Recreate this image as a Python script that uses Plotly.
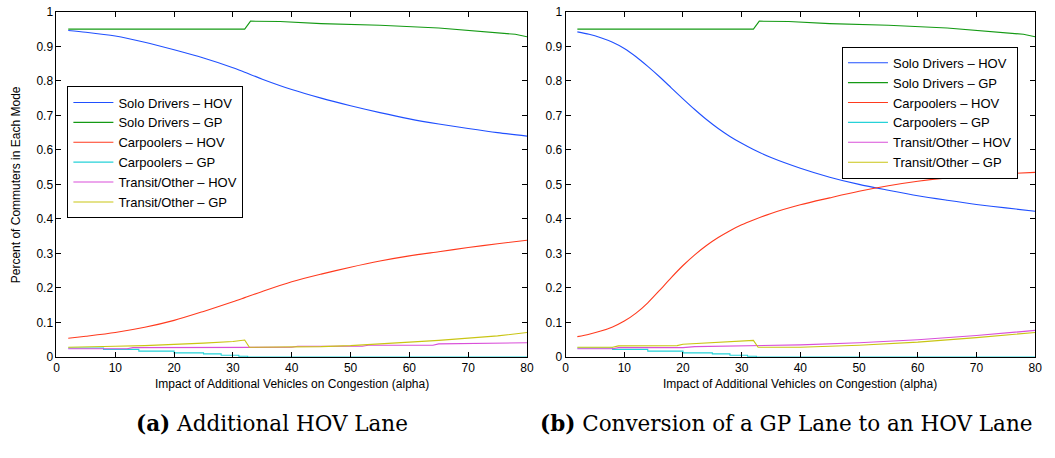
import plotly.graph_objects as go

# ---------------- data ----------------
# (a) Additional HOV lane
alpha_a = [2, 5, 10, 15, 20, 25, 30, 32, 35, 40, 45, 50, 55, 60, 65, 70, 75, 80]
solo_hov_a = [0.946, 0.941, 0.930, 0.912, 0.890, 0.866, 0.838, 0.825, 0.805, 0.775,
              0.750, 0.728, 0.708, 0.690, 0.675, 0.662, 0.650, 0.640]
carpool_hov_a = [0.054, 0.060, 0.071, 0.086, 0.106, 0.132, 0.160, 0.172, 0.190, 0.218,
                 0.240, 0.260, 0.278, 0.293, 0.305, 0.317, 0.328, 0.338]

solo_gp_x = [2, 32, 33, 38, 45, 55, 65, 72, 78, 80]
solo_gp_a = [0.950, 0.950, 0.973, 0.972, 0.966, 0.961, 0.953, 0.944, 0.935, 0.928]

carpool_gp_x = [2, 8, 14, 20, 25, 28, 31, 32.5, 80]
carpool_gp_a = [0.026, 0.022, 0.017, 0.012, 0.009, 0.005, 0.002, 0.0, 0.0]

transit_hov_x_a = [2, 12, 13, 32, 40, 41, 52, 53, 64, 65, 78, 80]
transit_hov_a = [0.024, 0.024, 0.027, 0.027, 0.028, 0.031, 0.031, 0.034, 0.034, 0.038, 0.039, 0.041]

transit_gp_x_a = [2, 8, 10, 15, 20, 25, 30, 32, 32.8, 40, 45, 50, 55, 60, 65, 70, 75, 80]
transit_gp_a = [0.028, 0.029, 0.031, 0.033, 0.036, 0.040, 0.045, 0.049, 0.028, 0.028,
                0.030, 0.033, 0.037, 0.043, 0.048, 0.054, 0.061, 0.071]

# (b) Conversion of a GP lane to an HOV lane
alpha_b = [2, 4, 6, 8, 10, 12, 14, 16, 18, 20, 22, 24, 26, 28, 30, 32, 35, 40, 45, 50,
           55, 60, 65, 70, 75, 80]
solo_hov_b = [0.942, 0.935, 0.925, 0.912, 0.894, 0.870, 0.842, 0.812, 0.780, 0.748,
              0.717, 0.688, 0.662, 0.639, 0.619, 0.601, 0.578, 0.547, 0.521, 0.500,
              0.483, 0.467, 0.454, 0.442, 0.432, 0.422]
carpool_hov_b = [0.059, 0.066, 0.075, 0.087, 0.104, 0.127, 0.157, 0.193, 0.230, 0.265,
                 0.296, 0.323, 0.346, 0.366, 0.383, 0.397, 0.416, 0.441, 0.461, 0.480,
                 0.496, 0.509, 0.519, 0.526, 0.531, 0.535]
solo_gp_b = [0.950, 0.950, 0.973, 0.972, 0.966, 0.961, 0.953, 0.944, 0.935, 0.928]
carpool_gp_b = [0.026, 0.022, 0.017, 0.012, 0.009, 0.005, 0.002, 0.0, 0.0]

transit_hov_x_b = [2, 8, 9, 20, 22, 32, 40, 50, 60, 70, 80]
transit_hov_b = [0.024, 0.024, 0.027, 0.027, 0.030, 0.032, 0.035, 0.041, 0.050, 0.062, 0.077]

transit_gp_x_b = [2, 8, 9, 19, 20, 24, 28, 30, 32, 32.8, 40, 50, 60, 70, 80]
transit_gp_b = [0.028, 0.028, 0.032, 0.033, 0.037, 0.040, 0.044, 0.046, 0.048, 0.028,
                0.028, 0.034, 0.043, 0.056, 0.071]

series_names = ["Solo Drivers – HOV", "Solo Drivers – GP", "Carpoolers – HOV",
                "Carpoolers – GP", "Transit/Other – HOV", "Transit/Other – GP"]
series_colors = ["#2050ff", "#149a14", "#ff3a1e", "#26d2d8", "#d94fd9", "#c9c514"]

x_title = "Impact of Additional Vehicles on Congestion (alpha)"
y_title = "Percent of Commuters in Each Mode"
caption_a = "<b>(a)</b> Additional HOV Lane"
caption_b = "<b>(b)</b> Conversion of a GP Lane to an HOV Lane"

# ---------------- figure ----------------
W, H = 1055, 458
fig = go.Figure()

panels = [
    dict(xa="x", ya="y", legend="legend",
         data=[(alpha_a, solo_hov_a, "spline"), (solo_gp_x, solo_gp_a, "linear"),
               (alpha_a, carpool_hov_a, "spline"), (carpool_gp_x, carpool_gp_a, "hv"),
               (transit_hov_x_a, transit_hov_a, "linear"), (transit_gp_x_a, transit_gp_a, "linear")]),
    dict(xa="x2", ya="y2", legend="legend2",
         data=[(alpha_b, solo_hov_b, "spline"), (solo_gp_x, solo_gp_b, "linear"),
               (alpha_b, carpool_hov_b, "spline"), (carpool_gp_x, carpool_gp_b, "hv"),
               (transit_hov_x_b, transit_hov_b, "linear"), (transit_gp_x_b, transit_gp_b, "linear")]),
]

for p in panels:
    for (xs, ys, shape), name, color in zip(p["data"], series_names, series_colors):
        fig.add_trace(go.Scatter(
            x=xs, y=ys, mode="lines", name=name, xaxis=p["xa"], yaxis=p["ya"],
            legend=p["legend"], cliponaxis=False,
            line=dict(color=color, width=1.1, shape=shape, smoothing=0.8),
        ))

sans = "Liberation Sans, Arial, sans-serif"
tick_font = dict(family=sans, size=12, color="black")
axis_common = dict(showline=True, linecolor="black", linewidth=1, mirror="allticks",
                   ticks="inside", ticklen=5, tickcolor="black", showgrid=False,
                   zeroline=False, tickfont=tick_font, ticklabeloverflow="allow")

x_ticks = [0, 10, 20, 30, 40, 50, 60, 70, 80]
y_ticks = [0, 0.1, 0.2, 0.3, 0.4, 0.5, 0.6, 0.7, 0.8, 0.9, 1]
y_labels = ["0", "0.1", "0.2", "0.3", "0.4", "0.5", "0.6", "0.7", "0.8", "0.9", "1"]

y_dom = [97 / H, 453 / H]
legend_common = dict(xanchor="left", yanchor="top", bordercolor="black", borderwidth=1,
                     bgcolor="white", font=dict(family=sans, size=13, color="black"),
                     tracegroupgap=0, itemwidth=40)
fig.update_layout(
    width=W, height=H, margin=dict(l=0, r=0, t=0, b=0),
    paper_bgcolor="white", plot_bgcolor="white",
    xaxis=dict(domain=[54 / W, 529 / W], range=[0, 80], tickvals=x_ticks, anchor="y", **axis_common),
    yaxis=dict(domain=y_dom, range=[0, 1], tickvals=y_ticks, ticktext=y_labels, anchor="x", **axis_common),
    xaxis2=dict(domain=[568 / W, 1042 / W], range=[0, 80], tickvals=x_ticks, anchor="y2", **axis_common),
    yaxis2=dict(domain=y_dom, range=[0, 1], tickvals=y_ticks, ticktext=y_labels, anchor="x2", **axis_common),
    legend=dict(x=65 / W, y=1 - 82 / H, **legend_common),
    legend2=dict(x=847 / W, y=1 - 41 / H, **legend_common),
)

label_font = dict(family=sans, size=12, color="black")
caption_font = dict(family="DejaVu Serif, serif", size=21.5, color="black")
annotations = [
    dict(text=x_title, x=(54 + 529) / 2 / W, y=1 - 389 / H, font=label_font),
    dict(text=x_title, x=(568 + 1042) / 2 / W, y=1 - 389 / H, font=label_font),
    dict(text=y_title, x=14 / W, y=1 - 183 / H, textangle=-90, font=label_font),
    dict(text=caption_a, x=272 / W, y=1 - 430 / H, font=caption_font),
    dict(text=caption_b, x=790 / W, y=1 - 430 / H, font=caption_font),
]
for a in annotations:
    fig.add_annotation(xref="paper", yref="paper", showarrow=False,
                       xanchor="center", yanchor="middle", **a)

fig.write_html("out.html")
